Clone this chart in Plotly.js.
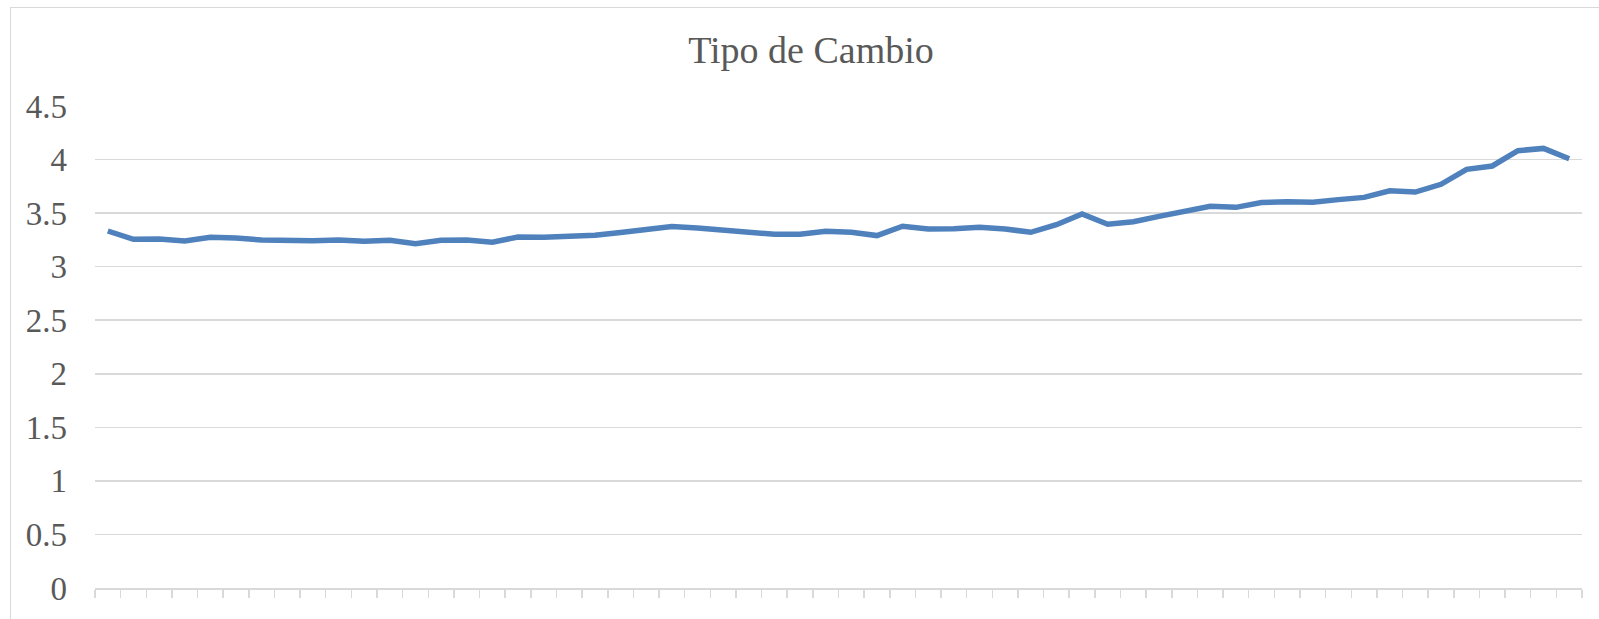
<!DOCTYPE html>
<html>
<head>
<meta charset="utf-8">
<script src="https://cdn.plot.ly/plotly-3.0.1.min.js"></script>
<style>
  html, body { margin: 0; padding: 0; background: #fff; overflow: hidden; }
  #wrap { position: relative; width: 1599px; height: 619px; }
  #chart { position: absolute; left: 0; top: 0; width: 1599px; height: 619px; }
  #frame { position: absolute; left: 10px; top: 7px; width: 1620px; height: 640px;
           border: 1.5px solid #d9d9d9; pointer-events: none; box-sizing: border-box; }
</style>
</head>
<body>
<div id="wrap">
  <div id="chart"></div>
  <div id="frame"></div>
</div>
<script>
const chartTitle = "Tipo de Cambio";
const tipoDeCambio = [
  3.333, 3.256, 3.259, 3.240, 3.274, 3.268, 3.249, 3.240, 3.243, 3.249,
  3.237, 3.246, 3.215, 3.246, 3.249, 3.228, 3.277, 3.274, 3.280, 3.293,
  3.318, 3.340, 3.374, 3.361, 3.340, 3.321, 3.302, 3.302, 3.330, 3.321,
  3.290, 3.377, 3.352, 3.355, 3.367, 3.352, 3.321, 3.392, 3.492, 3.396,
  3.420, 3.470, 3.517, 3.563, 3.554, 3.598, 3.607, 3.601, 3.626, 3.647,
  3.709, 3.697, 3.769, 3.909, 3.940, 4.083, 4.104, 4.008
];
const yTicks = [0, 0.5, 1, 1.5, 2, 2.5, 3, 3.5, 4, 4.5];
const yTickLabels = ["0", "0.5", "1", "1.5", "2", "2.5", "3", "3.5", "4", "4.5"];

const xIdx = tipoDeCambio.map((_, i) => i);

const trace = {
  x: xIdx,
  y: tipoDeCambio,
  type: "scatter",
  mode: "lines",
  line: { color: "#4f81bd", width: 5.5 },
  hoverinfo: "y"
};

const serif = "'Liberation Serif', 'Times New Roman', serif";

const layout = {
  width: 1599,
  height: 619,
  margin: { l: 95, r: 17, t: 106, b: 31 },
  paper_bgcolor: "rgba(0,0,0,0)",
  plot_bgcolor: "rgba(0,0,0,0)",
  showlegend: false,
  font: { family: serif, color: "#595959" },
  title: {
    text: chartTitle,
    font: { family: serif, size: 38, color: "#595959" },
    xref: "container", yref: "container",
    x: 811 / 1599, xanchor: "center",
    y: 1 - 50 / 619, yanchor: "middle"
  },
  xaxis: {
    range: [-0.5, tipoDeCambio.length - 0.5],
    tick0: -0.5, dtick: 1, tickmode: "linear",
    showticklabels: false,
    ticks: "outside", ticklen: 8, tickwidth: 1.5, tickcolor: "#d9d9d9",
    showgrid: false, zeroline: false,
    showline: true, linecolor: "#d9d9d9", linewidth: 1.5,
    fixedrange: true
  },
  yaxis: {
    range: [0, 4.5],
    tickmode: "array", tickvals: yTicks, ticktext: yTickLabels,
    tickfont: { size: 33, color: "#595959", family: serif },
    ticks: "", ticklabelstandoff: 27,
    showgrid: true, gridcolor: "#d9d9d9", gridwidth: 1.5,
    zeroline: false, showline: false,
    fixedrange: true
  }
};

Plotly.newPlot("chart", [trace], layout, { displayModeBar: false, staticPlot: true });
</script>
</body>
</html>
